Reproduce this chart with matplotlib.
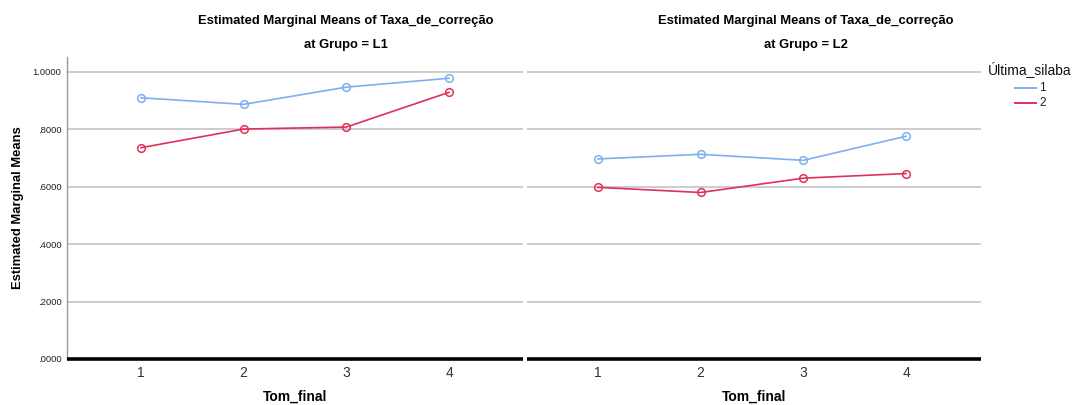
import matplotlib
matplotlib.use("Agg")
import matplotlib.pyplot as plt
from matplotlib.lines import Line2D

# Estimated marginal means of Taxa_de_correção by Tom_final, per Grupo
tom_final = [1, 2, 3, 4]
ultima_levels = ["1", "2"]
l1_silaba1 = [0.910, 0.887, 0.947, 0.978]
l1_silaba2 = [0.736, 0.801, 0.808, 0.929]
l2_silaba1 = [0.697, 0.713, 0.692, 0.776]
l2_silaba2 = [0.598, 0.580, 0.630, 0.646]
yticks = [0.0, 0.2, 0.4, 0.6, 0.8, 1.0]
ytick_labels = [".0000", ".2000", ".4000", ".6000", ".8000", "1.0000"]

BLUE = "#7eb0ee"
RED = "#e0305a"
GRID = "#c8c8c8"
FONT = ["Liberation Sans", "DejaVu Sans"]

plt.rcParams["font.family"] = FONT

W, H = 1073, 405
fig = plt.figure(figsize=(W / 100, H / 100), dpi=100)


def px_axes(x0, x1, y_top, y_bot):
    return fig.add_axes([x0 / W, 1 - y_bot / H, (x1 - x0) / W, (y_bot - y_top) / H])


def style_panel(ax, show_y, xlim):
    ax.set_xlim(*xlim)
    ax.set_ylim(0, 1.052)
    ax.set_yticks(yticks)
    ax.set_xticks(tom_final)
    ax.set_xticklabels([str(t) for t in tom_final], fontsize=10, color="#333333")
    ax.tick_params(axis="x", length=0, pad=5)
    ax.grid(axis="y", color=GRID, linewidth=1.3)
    ax.set_axisbelow(True)
    for side in ("top", "right"):
        ax.spines[side].set_visible(False)
    ax.spines["bottom"].set_color("black")
    ax.spines["bottom"].set_linewidth(2.6)
    ax.spines["bottom"].set_capstyle("butt")
    ax.spines["bottom"].set_zorder(5)
    if show_y:
        ax.set_yticklabels(ytick_labels, fontsize=6.8, color="#222222")
        ax.tick_params(axis="y", length=0, pad=4)
        ax.spines["left"].set_color("#999999")
        ax.spines["left"].set_linewidth(1.0)
    else:
        ax.set_yticklabels([])
        ax.tick_params(axis="y", length=0)
        ax.spines["left"].set_visible(False)
    ax.set_xlabel("Tom_final", fontsize=10, fontweight="bold", labelpad=7)


def draw_series(ax, s1, s2):
    ax.plot(tom_final, s1, color=BLUE, linewidth=1.2, marker="o", markersize=5.5,
            markerfacecolor="none", markeredgecolor=BLUE, markeredgewidth=1.1, zorder=3)
    ax.plot(tom_final, s2, color=RED, linewidth=1.2, marker="o", markersize=5.5,
            markerfacecolor="none", markeredgecolor=RED, markeredgewidth=1.1, zorder=3)


ax1 = px_axes(67, 523, 57, 359)
style_panel(ax1, True, (0.28, 4.72))
draw_series(ax1, l1_silaba1, l1_silaba2)
ax1.set_ylabel("Estimated Marginal Means", fontsize=9.4, fontweight="bold", labelpad=6)

ax2 = px_axes(527, 981, 57, 359)
style_panel(ax2, False, (0.31, 4.73))
draw_series(ax2, l2_silaba1, l2_silaba2)

# Panel titles
for cx, grp in ((346, "L1"), (806, "L2")):
    fig.text(cx / W, 1 - 21 / H, "Estimated Marginal Means of Taxa_de_correção",
             ha="center", va="center", fontsize=9.4, fontweight="bold")
    fig.text(cx / W, 1 - 45 / H, f"at Grupo = {grp}",
             ha="center", va="center", fontsize=9.4, fontweight="bold")

# Legend
fig.text(988 / W, 1 - 69 / H, "Última_silaba", ha="left", va="center",
         fontsize=10, color="#111111")
for y, lab, col in ((88, ultima_levels[0], BLUE), (103, ultima_levels[1], RED)):
    fig.add_artist(Line2D([1015 / W, 1036 / W], [1 - y / H, 1 - y / H],
                          color=col, linewidth=1.4, transform=fig.transFigure))
    fig.text(1039 / W, 1 - y / H, lab, ha="left", va="center", fontsize=8.5,
             color="#222222")

fig.savefig("out.png", dpi=100)
